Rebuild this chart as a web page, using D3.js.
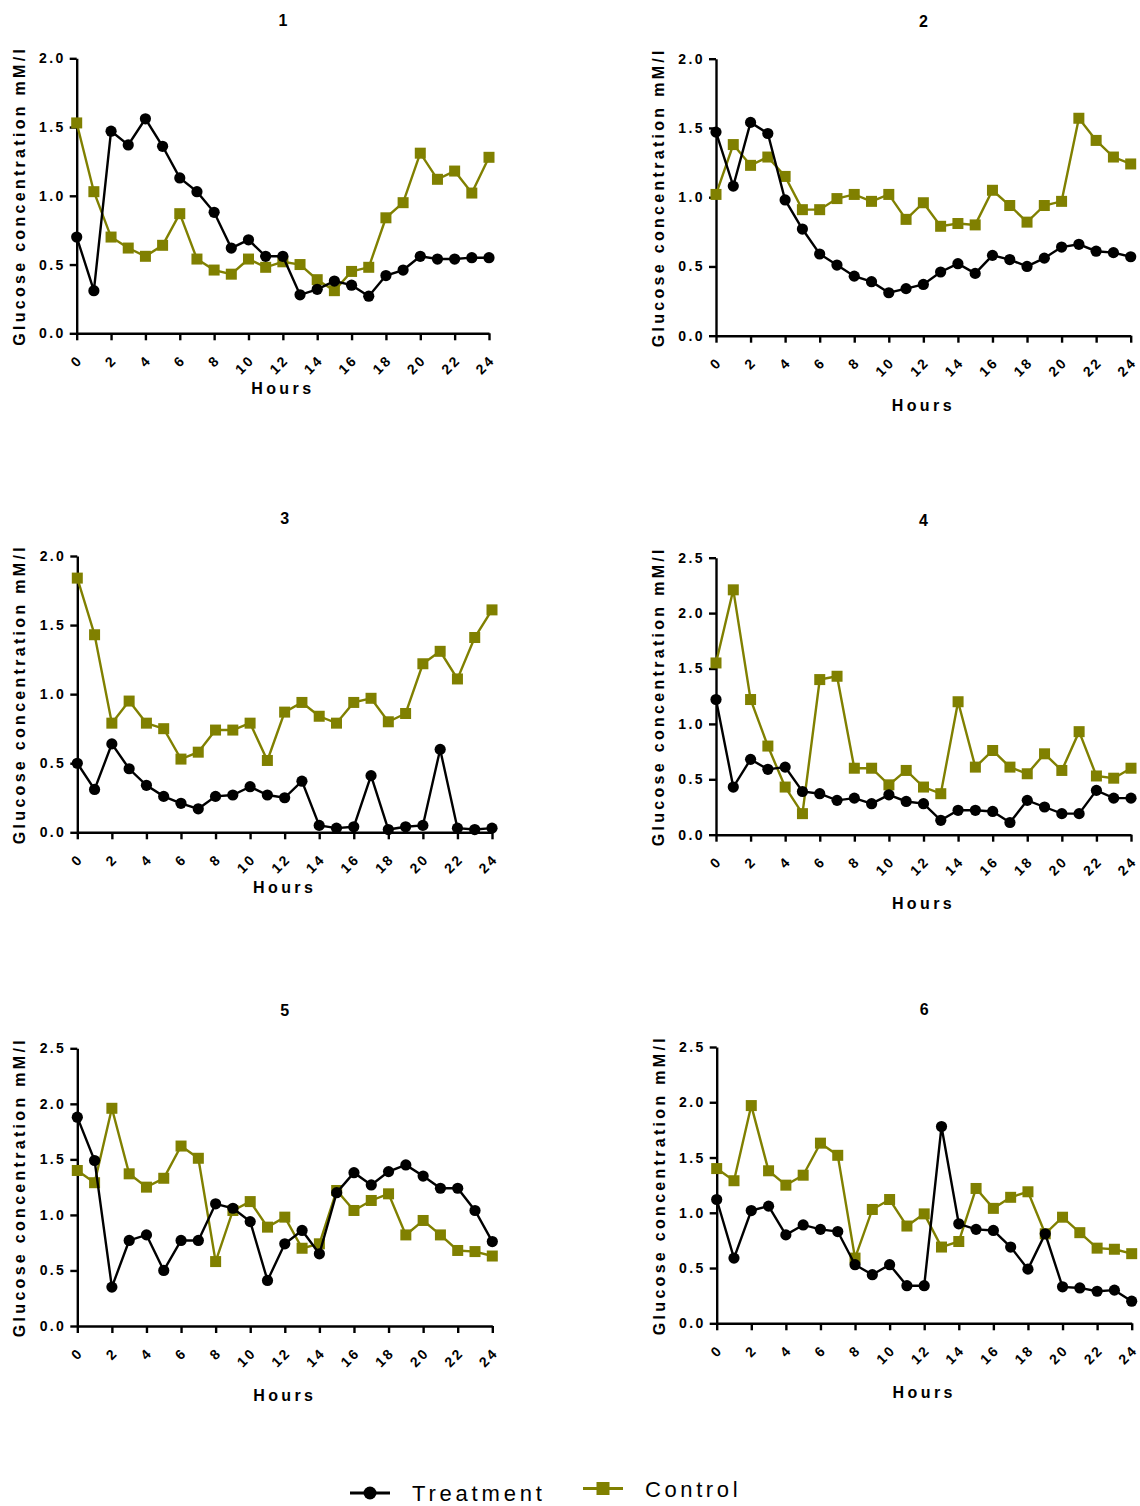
<!DOCTYPE html>
<html>
<head>
<meta charset="utf-8">
<script src="https://cdn.jsdelivr.net/npm/d3@7"></script>
<style>
  body { margin: 0; background: #fff; }
  svg { display: block; font-family: "Liberation Sans", Arial, sans-serif; }
</style>
</head>
<body>
<svg id="chart" width="1140" height="1506"></svg>
<script>
// hours 0..24
var hours = [0, 1, 2, 3, 4, 5, 6, 7, 8, 9, 10, 11, 12, 13, 14, 15, 16, 17, 18, 19, 20, 21, 22, 23, 24];
var hourTicks = [0, 2, 4, 6, 8, 10, 12, 14, 16, 18, 20, 22, 24];
var titles = ["1", "2", "3", "4", "5", "6"];
var ticksTo2 = [0, 0.5, 1.0, 1.5, 2.0];
var ticksTo25 = [0, 0.5, 1.0, 1.5, 2.0, 2.5];

var treat1 = [0.70, 0.31, 1.47, 1.37, 1.56, 1.36, 1.13, 1.03, 0.88, 0.62, 0.68, 0.56, 0.56, 0.28, 0.32, 0.38, 0.35, 0.27, 0.42, 0.46, 0.56, 0.54, 0.54, 0.55, 0.55];
var ctrl1 = [1.53, 1.03, 0.70, 0.62, 0.56, 0.64, 0.87, 0.54, 0.46, 0.43, 0.54, 0.48, 0.52, 0.50, 0.39, 0.31, 0.45, 0.48, 0.84, 0.95, 1.31, 1.12, 1.18, 1.02, 1.28];
var treat2 = [1.47, 1.08, 1.54, 1.46, 0.98, 0.77, 0.59, 0.51, 0.43, 0.39, 0.31, 0.34, 0.37, 0.46, 0.52, 0.45, 0.58, 0.55, 0.50, 0.56, 0.64, 0.66, 0.61, 0.60, 0.57];
var ctrl2 = [1.02, 1.38, 1.23, 1.29, 1.15, 0.91, 0.91, 0.99, 1.02, 0.97, 1.02, 0.84, 0.96, 0.79, 0.81, 0.80, 1.05, 0.94, 0.82, 0.94, 0.97, 1.57, 1.41, 1.29, 1.24];
var treat3 = [0.50, 0.31, 0.64, 0.46, 0.34, 0.26, 0.21, 0.17, 0.26, 0.27, 0.33, 0.27, 0.25, 0.37, 0.05, 0.03, 0.04, 0.41, 0.02, 0.04, 0.05, 0.60, 0.03, 0.02, 0.03];
var ctrl3 = [1.84, 1.43, 0.79, 0.95, 0.79, 0.75, 0.53, 0.58, 0.74, 0.74, 0.79, 0.52, 0.87, 0.94, 0.84, 0.79, 0.94, 0.97, 0.80, 0.86, 1.22, 1.31, 1.11, 1.41, 1.61];
var treat4 = [1.22, 0.43, 0.68, 0.59, 0.61, 0.39, 0.37, 0.31, 0.33, 0.28, 0.36, 0.30, 0.28, 0.13, 0.22, 0.22, 0.21, 0.11, 0.31, 0.25, 0.19, 0.19, 0.40, 0.33, 0.33];
var ctrl4 = [1.55, 2.21, 1.22, 0.80, 0.43, 0.19, 1.40, 1.43, 0.60, 0.60, 0.45, 0.58, 0.43, 0.37, 1.20, 0.61, 0.76, 0.61, 0.55, 0.73, 0.58, 0.93, 0.53, 0.51, 0.60];
var treat5 = [1.88, 1.49, 0.35, 0.77, 0.82, 0.50, 0.77, 0.77, 1.10, 1.06, 0.94, 0.41, 0.74, 0.86, 0.65, 1.20, 1.38, 1.27, 1.39, 1.45, 1.35, 1.24, 1.24, 1.04, 0.76];
var ctrl5 = [1.40, 1.29, 1.96, 1.37, 1.25, 1.33, 1.62, 1.51, 0.58, 1.04, 1.12, 0.89, 0.98, 0.70, 0.74, 1.22, 1.04, 1.13, 1.19, 0.82, 0.95, 0.82, 0.68, 0.67, 0.63];
var treat6 = [1.12, 0.59, 1.02, 1.06, 0.80, 0.89, 0.85, 0.83, 0.53, 0.44, 0.53, 0.34, 0.34, 1.78, 0.90, 0.85, 0.84, 0.69, 0.49, 0.81, 0.33, 0.32, 0.29, 0.30, 0.20];
var ctrl6 = [1.40, 1.29, 1.97, 1.38, 1.25, 1.34, 1.63, 1.52, 0.59, 1.03, 1.12, 0.88, 0.99, 0.69, 0.74, 1.22, 1.04, 1.14, 1.19, 0.81, 0.96, 0.82, 0.68, 0.67, 0.63];

var OLIVE = "#808000";
var FONT = "\"Liberation Sans\", Arial, sans-serif";

// where each panel sits on the page
var panels = [
  { t: treat1, c: ctrl1, ticks: ticksTo2, left: 76.7, right: 489, top: 58.3, bottom: 333.3, hoursDy: 61 },
  { t: treat2, c: ctrl2, ticks: ticksTo2, left: 716, right: 1130.7, top: 58.7, bottom: 335.7, hoursDy: 75 },
  { t: treat3, c: ctrl3, ticks: ticksTo2, left: 77.3, right: 492, top: 556, bottom: 832.3, hoursDy: 61 },
  { t: treat4, c: ctrl4, ticks: ticksTo25, left: 716, right: 1131, top: 557.7, bottom: 834.7, hoursDy: 74 },
  { t: treat5, c: ctrl5, ticks: ticksTo25, left: 77.3, right: 492.3, top: 1048.3, bottom: 1326, hoursDy: 75 },
  { t: treat6, c: ctrl6, ticks: ticksTo25, left: 716.7, right: 1131.7, top: 1047, bottom: 1323.3, hoursDy: 75 }
];

var svg = d3.select("#chart");
svg.append("rect").attr("width", 1140).attr("height", 1506).attr("fill", "#fff");

panels.forEach(function (p, i) {
  var x = d3.scaleLinear().domain([0, 24]).range([p.left, p.right]);
  var yMax = p.ticks[p.ticks.length - 1];
  var y = d3.scaleLinear().domain([0, yMax]).range([p.bottom, p.top]);
  var g = svg.append("g");

  // title
  g.append("text")
    .attr("x", (p.left + p.right) / 2)
    .attr("y", p.top - 32)
    .attr("text-anchor", "middle")
    .style("font", "bold 16px " + FONT)
    .text(titles[i]);

  // y axis
  var yAxis = g.append("g")
    .attr("transform", "translate(" + p.left + ",0)")
    .call(d3.axisLeft(y).tickValues(p.ticks).tickFormat(d3.format(".1f")).tickSize(7).tickSizeOuter(0));
  // x axis
  var xAxis = g.append("g")
    .attr("transform", "translate(0," + p.bottom + ")")
    .call(d3.axisBottom(x).tickValues(hourTicks).tickFormat(d3.format("d")).tickSize(7).tickSizeOuter(0));

  [yAxis, xAxis].forEach(function (a) {
    a.select(".domain").attr("stroke", "#000").attr("stroke-width", 2.4);
    a.selectAll(".tick line").attr("stroke", "#000").attr("stroke-width", 2.4);
    a.selectAll(".tick text")
      .attr("fill", "#000")
      .style("font-family", FONT)
      .style("font-weight", "bold")
      .style("font-size", "14px")
      .style("letter-spacing", "2.4px");
  });
  yAxis.selectAll(".tick text").attr("x", -11);
  xAxis.selectAll(".tick text")
    .attr("x", 0).attr("y", 0).attr("dy", "0.35em")
    .attr("text-anchor", "end")
    .attr("transform", "translate(3,24) rotate(-45)");

  // axis titles
  g.append("text")
    .attr("transform", "translate(" + (p.left - 52) + "," + ((p.top + p.bottom) / 2) + ") rotate(-90)")
    .attr("text-anchor", "middle")
    .style("font", "bold 16px " + FONT)
    .style("letter-spacing", "3.3px")
    .text("Glucose concentration mM/l");
  g.append("text")
    .attr("x", (p.left + p.right) / 2)
    .attr("y", p.bottom + p.hoursDy)
    .attr("text-anchor", "middle")
    .style("font", "bold 16px " + FONT)
    .style("letter-spacing", "3.4px")
    .text("Hours");

  var line = d3.line().x(function (d, k) { return x(hours[k]); }).y(function (d) { return y(d); });

  // control first so treatment sits on top
  g.append("path").datum(p.c)
    .attr("d", line).attr("fill", "none").attr("stroke", OLIVE).attr("stroke-width", 2.4);
  g.selectAll("rect.ctrl").data(p.c).enter().append("rect")
    .attr("class", "ctrl")
    .attr("x", function (d, k) { return x(hours[k]) - 5.5; })
    .attr("y", function (d) { return y(d) - 5.5; })
    .attr("width", 11).attr("height", 11)
    .attr("fill", OLIVE);

  g.append("path").datum(p.t)
    .attr("d", line).attr("fill", "none").attr("stroke", "#000").attr("stroke-width", 2.4);
  g.selectAll("circle.treat").data(p.t).enter().append("circle")
    .attr("class", "treat")
    .attr("cx", function (d, k) { return x(hours[k]); })
    .attr("cy", function (d) { return y(d); })
    .attr("r", 5.6)
    .attr("fill", "#000");
});

// legend
var leg = svg.append("g");
leg.append("line").attr("x1", 350).attr("x2", 390).attr("y1", 1493).attr("y2", 1493)
  .attr("stroke", "#000").attr("stroke-width", 3);
leg.append("circle").attr("cx", 370).attr("cy", 1493).attr("r", 6.5).attr("fill", "#000");
leg.append("text").attr("x", 412).attr("y", 1501)
  .style("font", "22px " + FONT).style("letter-spacing", "3.8px").text("Treatment");

leg.append("line").attr("x1", 583).attr("x2", 623).attr("y1", 1488.5).attr("y2", 1488.5)
  .attr("stroke", OLIVE).attr("stroke-width", 3);
leg.append("rect").attr("x", 596.5).attr("y", 1482).attr("width", 13).attr("height", 13).attr("fill", OLIVE);
leg.append("text").attr("x", 645).attr("y", 1497)
  .style("font", "22px " + FONT).style("letter-spacing", "3.6px").text("Control");
</script>
</body>
</html>
